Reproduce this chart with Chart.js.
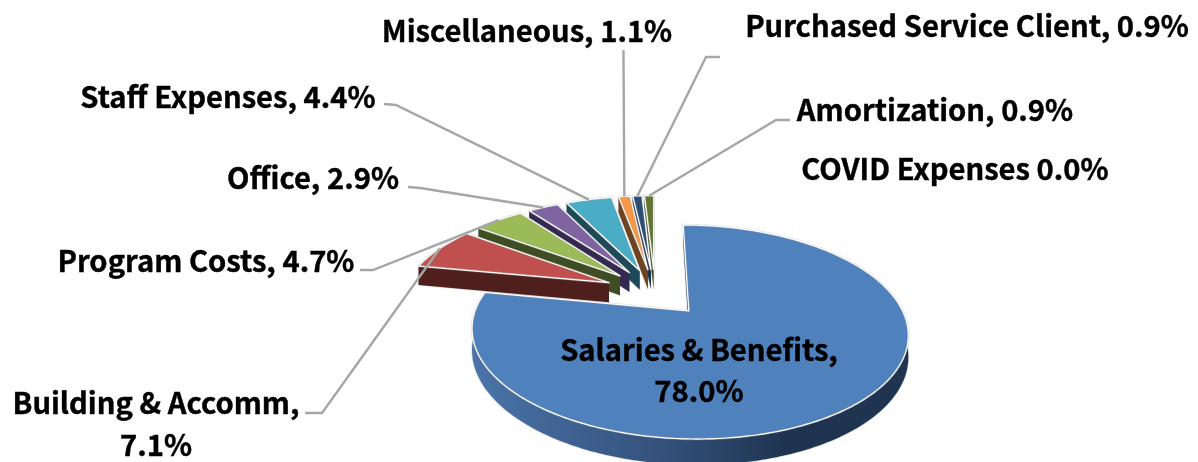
<!DOCTYPE html>
<html>
<head>
<meta charset="utf-8">
<title>Expenses</title>
<style>
  html, body { margin: 0; padding: 0; background: #fff; }
  #expenses-chart { display: block; }
</style>
</head>
<body>
<canvas id="expenses-chart" width="1198" height="462"></canvas>
<script src="https://cdn.jsdelivr.net/npm/chart.js@4"></script>
<script>
const CATEGORIES = [
  'Salaries & Benefits',
  'Building & Accomm',
  'Program Costs',
  'Office',
  'Staff Expenses',
  'Miscellaneous',
  'Purchased Service Client',
  'Amortization',
  'COVID Expenses'
];
const VALUES = [78.0, 7.1, 4.7, 2.9, 4.4, 1.1, 0.9, 0.9, 0.0];

const TOP_COLORS = ['#4f81bd', '#c0504d', '#9bbb59', '#8064a2', '#4bacc6', '#f79646', '#2c4d75', '#5f7530', '#772c2a'];
const WALL_COLORS = ['#1f3450', '#4e1f1c', '#3e4e22', '#342950', '#1d4a58', '#6e4420', '#1b3350', '#3e4e22', '#4e1f1c'];

// projection of the pie plane on to the page, tilted with some perspective
const VIEW = { x: 655, y: 292, rx: 206, ry: 95.5, k: 0.19, depth: 20 };

const LEADER_COLOR = '#a6a6a6';
const LABEL_FONT = 'bold 29.2px "Noto Sans CJK JP", "Noto Sans", sans-serif';

// where each label sits, and the elbow of its leader line
const LABEL_LAYOUT = [
  { x: 699, y: [350, 391] },
  { x: 156, y: [403, 445], start: [305, 413], elbow: [322, 413] },
  { x: 206, y: [261], start: [360, 270], elbow: [373, 270] },
  { x: 313, y: [178], start: [408, 187], elbow: [420, 188] },
  { x: 228, y: [97], start: [384, 104], elbow: [396, 105] },
  { x: 527, y: [31], start: [623.5, 50], elbow: [623.5, 60] },
  { x: 967, y: [26], start: [720, 57], elbow: [706, 57] },
  { x: 935, y: [110], start: [790, 120], elbow: [776, 120] },
  { x: 955, y: [169] }
];

function labelLines(i) {
  const pct = VALUES[i].toFixed(1) + '%';
  if (i === 0 || i === 1) {
    return [CATEGORIES[i] + ',', pct];
  }
  // this one has no comma in the original
  if (VALUES[i] === 0) {
    return [CATEGORIES[i] + ' ' + pct];
  }
  return [CATEGORIES[i] + ', ' + pct];
}

function project(u, v, drop) {
  const s = 1 / (1 - VIEW.k * v);
  return {
    x: VIEW.x + VIEW.rx * u * s,
    y: VIEW.y + VIEW.ry * v * s + (drop ? VIEW.depth * s : 0)
  };
}

// outline of one exploded slice, in plane coordinates; points[0] is the tip
function sliceOutline(arc) {
  const { startAngle, endAngle, outerRadius } = arc.getProps(['startAngle', 'endAngle', 'outerRadius'], true);
  const mid = (startAngle + endAngle) / 2;
  const shift = arc.options.offset / outerRadius;
  const cu = Math.cos(mid) * shift;
  const cv = Math.sin(mid) * shift;
  const points = [[cu, cv]];
  const steps = Math.max(2, Math.ceil((endAngle - startAngle) / 0.015));
  for (let i = 0; i <= steps; i++) {
    const a = startAngle + (endAngle - startAngle) * i / steps;
    points.push([cu + Math.cos(a), cv + Math.sin(a)]);
  }
  return { points, outerMid: [cu + Math.cos(mid), cv + Math.sin(mid)] };
}

function tracePath(ctx, points, drop) {
  ctx.beginPath();
  points.forEach((p, i) => {
    const q = project(p[0], p[1], drop);
    if (i === 0) {
      ctx.moveTo(q.x, q.y);
    } else {
      ctx.lineTo(q.x, q.y);
    }
  });
  ctx.closePath();
}

// band between a run of points and the same points dropped by the depth
function traceBand(ctx, run) {
  const path = run.map(p => project(p[0], p[1], false))
    .concat(run.slice().reverse().map(p => project(p[0], p[1], true)));
  ctx.beginPath();
  path.forEach((q, i) => {
    if (i === 0) {
      ctx.moveTo(q.x, q.y);
    } else {
      ctx.lineTo(q.x, q.y);
    }
  });
  ctx.closePath();
}

function drawWalls(ctx, points, fill) {
  const last = points.length - 1;
  ctx.fillStyle = fill;
  [points.slice(1), [points[0], points[1]], [points[0], points[last]]].forEach(run => {
    traceBand(ctx, run);
    ctx.fill();
  });
}

function strokeEdge(ctx) {
  ctx.strokeStyle = 'rgba(170,170,170,0.4)';
  ctx.lineWidth = 2.4;
  ctx.stroke();
  ctx.strokeStyle = '#fff';
  ctx.lineWidth = 1.2;
  ctx.stroke();
}

function drawSlice(ctx, arc, i) {
  const { points } = sliceOutline(arc);
  let wall = WALL_COLORS[i];
  if (i === 0) {
    wall = ctx.createLinearGradient(472, 0, 907, 0);
    wall.addColorStop(0, '#4a74a8');
    wall.addColorStop(0.45, '#33507a');
    wall.addColorStop(0.72, '#1f3450');
    wall.addColorStop(1, '#1f3450');
  }
  // pale edge under the wall, then the wall, then the top face
  ctx.lineJoin = 'round';
  tracePath(ctx, points, true);
  ctx.strokeStyle = 'rgba(170,170,170,0.35)';
  ctx.lineWidth = 1.6;
  ctx.stroke();
  drawWalls(ctx, points, wall);
  tracePath(ctx, points, false);
  ctx.fillStyle = TOP_COLORS[i];
  ctx.fill();
  strokeEdge(ctx);
}

function drawLeaders(ctx, arcs) {
  ctx.strokeStyle = LEADER_COLOR;
  ctx.lineWidth = 2.4;
  ctx.lineJoin = 'miter';
  LABEL_LAYOUT.forEach((item, i) => {
    if (!item.start) {
      return;
    }
    const { outerMid } = sliceOutline(arcs[i]);
    const end = project(outerMid[0], outerMid[1], false);
    ctx.beginPath();
    ctx.moveTo(item.start[0], item.start[1]);
    ctx.lineTo(item.elbow[0], item.elbow[1]);
    ctx.lineTo(end.x, end.y);
    ctx.stroke();
  });
}

function drawLabels(ctx) {
  ctx.fillStyle = '#000';
  ctx.strokeStyle = '#000';
  ctx.lineWidth = 0.4;
  ctx.font = LABEL_FONT;
  ctx.textAlign = 'center';
  ctx.textBaseline = 'middle';
  LABEL_LAYOUT.forEach((item, i) => {
    labelLines(i).forEach((line, n) => {
      ctx.fillText(line, item.x, item.y[n]);
      ctx.strokeText(line, item.x, item.y[n]);
    });
  });
}

const tiltedPie = {
  id: 'tiltedPie',
  beforeDatasetDraw(chart, args) {
    const ctx = chart.ctx;
    const arcs = chart.getDatasetMeta(args.index).data;
    ctx.save();
    // salaries first, then the small slices from the far side forward
    drawSlice(ctx, arcs[0], 0);
    for (let i = arcs.length - 1; i > 0; i--) {
      if (VALUES[i] > 0) {
        drawSlice(ctx, arcs[i], i);
      }
    }
    drawLeaders(ctx, arcs);
    drawLabels(ctx);
    ctx.restore();
    return false;
  }
};

new Chart(document.getElementById('expenses-chart'), {
  type: 'pie',
  data: {
    labels: CATEGORIES,
    datasets: [{
      data: VALUES,
      backgroundColor: TOP_COLORS,
      borderWidth: 0,
      offset: 51
    }]
  },
  options: {
    responsive: false,
    animation: false,
    plugins: {
      legend: { display: false },
      tooltip: { enabled: false }
    }
  },
  plugins: [tiltedPie]
});
</script>
</body>
</html>
